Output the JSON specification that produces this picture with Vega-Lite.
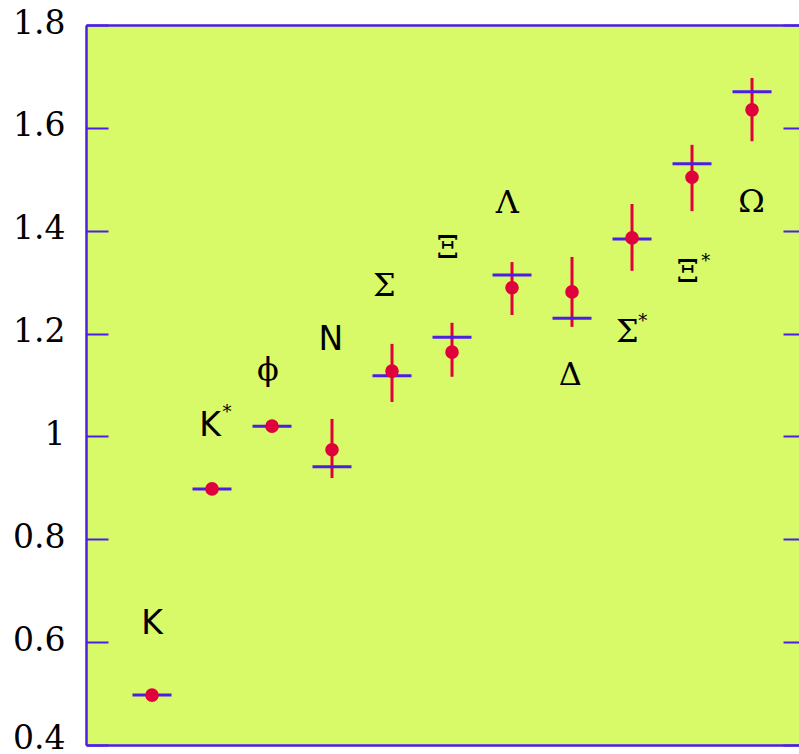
{
  "$schema": "https://vega.github.io/schema/vega-lite/v6.json",
  "width": 713,
  "height": 720,
  "autosize": {"type": "none"},
  "padding": {"left": 86, "top": 25, "right": 0, "bottom": 9},
  "background": "white",
  "config": {"view": {"fill": "#d8fa69", "stroke": null}},
  "datasets": {
    "points": [
      {"name": "K", "idx": 1, "mass": 0.497, "value": 0.497, "lo": null, "hi": null},
      {"name": "K*", "idx": 2, "mass": 0.898, "value": 0.898, "lo": null, "hi": null},
      {"name": "phi", "idx": 3, "mass": 1.020, "value": 1.020, "lo": null, "hi": null},
      {"name": "N", "idx": 4, "mass": 0.941, "value": 0.974, "lo": 0.919, "hi": 1.034},
      {"name": "Sigma", "idx": 5, "mass": 1.118, "value": 1.127, "lo": 1.067, "hi": 1.180},
      {"name": "Xi", "idx": 6, "mass": 1.193, "value": 1.164, "lo": 1.116, "hi": 1.221},
      {"name": "Lambda", "idx": 7, "mass": 1.314, "value": 1.289, "lo": 1.236, "hi": 1.339},
      {"name": "Delta", "idx": 8, "mass": 1.230, "value": 1.281, "lo": 1.213, "hi": 1.349},
      {"name": "Sigma*", "idx": 9, "mass": 1.384, "value": 1.386, "lo": 1.322, "hi": 1.452},
      {"name": "Xi*", "idx": 10, "mass": 1.530, "value": 1.504, "lo": 1.438, "hi": 1.567},
      {"name": "Omega", "idx": 11, "mass": 1.670, "value": 1.635, "lo": 1.574, "hi": 1.697}
    ],
    "latin": [
      {"label": "K", "lx": 1.0, "ly": 0.635},
      {"label": "K", "lx": 1.967, "ly": 1.020},
      {"label": "N", "lx": 3.98, "ly": 1.188}
    ],
    "greek": [
      {"label": "ϕ", "lx": 2.93, "ly": 1.129},
      {"label": "Σ", "lx": 4.87, "ly": 1.293},
      {"label": "Ξ", "lx": 5.93, "ly": 1.366},
      {"label": "Λ", "lx": 6.92, "ly": 1.454},
      {"label": "Δ", "lx": 7.97, "ly": 1.119},
      {"label": "Σ", "lx": 8.92, "ly": 1.203},
      {"label": "Ξ", "lx": 9.93, "ly": 1.320},
      {"label": "Ω", "lx": 10.99, "ly": 1.456}
    ],
    "stars": [
      {"label": "*", "sx": 2.25, "sy": 1.046},
      {"label": "*", "sx": 9.18, "sy": 1.222},
      {"label": "*", "sx": 10.23, "sy": 1.339}
    ]
  },
  "layer": [
    {
      "data": {"name": "points"},
      "transform": [{"filter": "datum.lo != null"}],
      "mark": {"type": "rule", "color": "#e0003c", "strokeWidth": 3},
      "encoding": {
        "x": {
          "field": "idx", "type": "quantitative",
          "scale": {"domain": [-0.1, 11.783], "nice": false, "zero": false},
          "axis": {"orient": "bottom", "domain": true, "domainColor": "#4c1ee4", "domainWidth": 2.5, "ticks": false, "labels": false, "grid": false, "title": null}
        },
        "y": {
          "field": "lo", "type": "quantitative",
          "scale": {"domain": [0.4, 1.8], "nice": false, "zero": false},
          "axis": {
            "orient": "left", "values": [0.4, 0.6, 0.8, 1.0, 1.2, 1.4, 1.6, 1.8], "format": ".1~f",
            "domain": true, "domainColor": "#4c1ee4", "domainWidth": 2.5,
            "ticks": true, "tickSize": -22, "tickColor": "#4c1ee4", "tickWidth": 2,
            "labelFont": "DejaVu Serif", "labelFontSize": 33, "labelColor": "#000000",
            "labelPadding": 43,
            "labelOffset": {"condition": {"test": "datum.value <= 0.41", "value": 3}, "value": 8},
            "labelBaseline": "alphabetic", "labelFlush": false, "labelOverlap": false,
            "grid": false, "title": null
          }
        },
        "y2": {"field": "hi"}
      }
    },
    {
      "data": {"name": "points"},
      "mark": {"type": "tick", "orient": "horizontal", "color": "#4c1ee4", "size": 39, "thickness": 3, "opacity": 1},
      "encoding": {
        "x": {
          "field": "idx", "type": "quantitative",
          "axis": {"orient": "top", "domain": true, "domainColor": "#4c1ee4", "domainWidth": 2.5, "ticks": false, "labels": false, "grid": false, "title": null}
        },
        "y": {
          "field": "mass", "type": "quantitative",
          "axis": {"orient": "right", "values": [0.4, 0.6, 0.8, 1.0, 1.2, 1.4, 1.6, 1.8], "domain": false, "ticks": true, "tickSize": -16, "tickColor": "#4c1ee4", "tickWidth": 2, "labels": false, "grid": false, "title": null}
        }
      }
    },
    {
      "data": {"name": "points"},
      "mark": {"type": "circle", "color": "#e0003c", "size": 185, "opacity": 1},
      "encoding": {
        "x": {"field": "idx", "type": "quantitative", "axis": null},
        "y": {"field": "value", "type": "quantitative", "axis": null}
      }
    },
    {
      "data": {"name": "latin"},
      "mark": {"type": "text", "font": "DejaVu Sans", "fontSize": 33, "color": "#000000", "align": "center", "baseline": "middle"},
      "encoding": {
        "x": {"field": "lx", "type": "quantitative", "axis": null},
        "y": {"field": "ly", "type": "quantitative", "axis": null},
        "text": {"field": "label"}
      }
    },
    {
      "data": {"name": "greek"},
      "mark": {"type": "text", "font": "DejaVu Serif", "fontSize": 32, "color": "#000000", "align": "center", "baseline": "middle"},
      "encoding": {
        "x": {"field": "lx", "type": "quantitative", "axis": null},
        "y": {"field": "ly", "type": "quantitative", "axis": null},
        "text": {"field": "label"}
      }
    },
    {
      "data": {"name": "stars"},
      "mark": {"type": "text", "font": "DejaVu Serif", "fontSize": 18, "color": "#000000", "align": "center", "baseline": "middle"},
      "encoding": {
        "x": {"field": "sx", "type": "quantitative", "axis": null},
        "y": {"field": "sy", "type": "quantitative", "axis": null},
        "text": {"field": "label"}
      }
    }
  ],
  "resolve": {"axis": {"x": "independent", "y": "independent"}}
}
